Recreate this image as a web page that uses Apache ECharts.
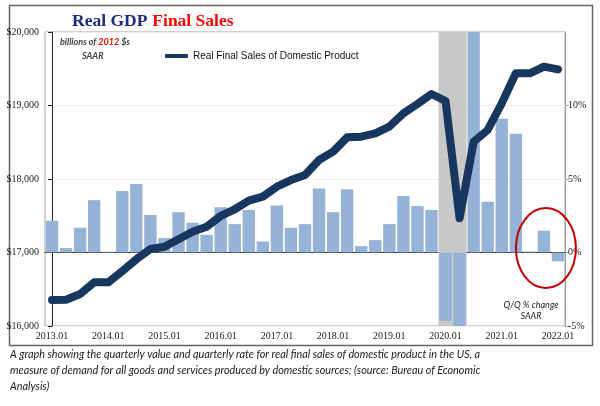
<!DOCTYPE html>
<html>
<head>
    <meta charset="utf-8">
    <title>Real GDP Final Sales</title>
    <script src="https://cdn.jsdelivr.net/npm/echarts@6/dist/echarts.min.js"></script>
    <style>
        html, body { margin: 0; padding: 0; background: #fff; }
        #main { width: 600px; height: 406px; }
    </style>
</head>
<body>
<div id="main"></div>
<script type="text/javascript">
    // quarters 2013.01 .. 2022.01
    var categories = [
        '2013.01','2013.04','2013.07','2013.10',
        '2014.01','2014.04','2014.07','2014.10',
        '2015.01','2015.04','2015.07','2015.10',
        '2016.01','2016.04','2016.07','2016.10',
        '2017.01','2017.04','2017.07','2017.10',
        '2018.01','2018.04','2018.07','2018.10',
        '2019.01','2019.04','2019.07','2019.10',
        '2020.01','2020.04','2020.07','2020.10',
        '2021.01','2021.04','2021.07','2021.10',
        '2022.01'
    ];
    // billions of 2012 $, SAAR (left axis)
    var finalSales = [
        16354, 16358, 16435, 16594,
        16594, 16748, 16907, 17048,
        17079, 17180, 17283, 17351,
        17497, 17588, 17705, 17760,
        17895, 17986, 18054, 18259,
        18372, 18567, 18576, 18621,
        18712, 18893, 19020, 19156,
        19061, 17465, 18507, 18667,
        19030, 19438, 19438, 19528,
        19492
    ];
    // Q/Q % change SAAR (right axis) - 2020.04 / 2020.07 run off the chart
    var qoqChange = [
        2.16, 0.30, 1.68, 3.56,
        0.05, 4.18, 4.66, 2.55,
        0.98, 2.74, 2.02, 1.20,
        3.08, 1.93, 2.90, 0.75,
        3.20, 1.68, 1.93, 4.36,
        2.74, 4.30, 0.43, 0.84,
        1.93, 3.84, 3.16, 2.90,
        -4.65, -30, 36, 3.45,
        9.10, 8.07, 0.07, 1.48,
        -0.60
    ];
    var recessionQuarters = ['2020.01', '2020.04'];
    var leftTicks = [16000, 17000, 18000, 19000, 20000];
    var rightTicks = [-5, 0, 5, 10, 15];

    var captionLines = [
        'A graph showing the quarterly value and quarterly rate for real final sales of domestic product in the US, a',
        'measure of demand for all goods and services produced by domestic sources; (source: Bureau of Economic',
        'Analysis)'
    ];

    // recession band edges, in category index units (half a quarter either side)
    var recStart = categories.indexOf(recessionQuarters[0]) - 0.5;
    var recEnd = categories.indexOf(recessionQuarters[recessionQuarters.length - 1]) + 0.5;

    var serif = 'Liberation Serif';
    var myChart = echarts.init(document.getElementById('main'));

    var graphics = [
        {   // outer frame
            type: 'rect', left: 7, top: 3, silent: true,
            shape: { width: 583, height: 340 },
            style: { fill: 'none', stroke: '#666', lineWidth: 1.5 }
        },
        {
            type: 'text', left: 60, top: 38, silent: true,
            style: {
                text: '{g|billions of }{r|2012}{g| $s}',
                rich: {
                    g: { fontFamily: 'Lato', fontStyle: 'italic', fontWeight: 'bold', fontSize: 9, fill: '#404040' },
                    r: { fontFamily: 'Lato', fontStyle: 'italic', fontWeight: 'bold', fontSize: 9, fill: '#ff0000' }
                }
            }
        },
        {
            type: 'text', left: 82, top: 52, silent: true,
            style: { text: 'SAAR', fontFamily: 'Lato', fontStyle: 'italic', fontWeight: 'bold', fontSize: 9, fill: '#404040' }
        },
        {
            type: 'text', x: 531, y: 301, silent: true,
            style: { text: 'Q/Q % change', align: 'center', fontFamily: 'Lato', fontStyle: 'italic', fontSize: 9, fill: '#222' }
        },
        {
            type: 'text', x: 531, y: 312, silent: true,
            style: { text: 'SAAR', align: 'center', fontFamily: 'Lato', fontStyle: 'italic', fontSize: 9, fill: '#222' }
        }
    ];
    captionLines.forEach(function (line, i) {
        graphics.push({
            type: 'text', left: 10, top: 349 + i * 16, silent: true,
            style: { text: line, fontFamily: 'Lato', fontStyle: 'italic', fontSize: 10.8, fill: '#1a1a1a' }
        });
    });

    myChart.setOption({
        animation: false,
        title: {
            left: 67, top: 7,
            text: '{a|Real GDP} {b|Final Sales}',
            textStyle: {
                rich: {
                    a: { fontFamily: serif, fontWeight: 'bold', fontSize: 17.5, color: '#1c2a80' },
                    b: { fontFamily: serif, fontWeight: 'bold', fontSize: 17.5, color: '#ff0000' }
                }
            }
        },
        legend: {
            data: ['Real Final Sales of Domestic Product'],
            left: 160, top: 46,
            icon: 'roundRect',
            itemWidth: 23, itemHeight: 4,
            textStyle: { fontFamily: 'Liberation Sans', fontSize: 10, color: '#111' }
        },
        grid: {
            left: 45, right: 35, top: 32, bottom: 80,
            show: true, borderColor: '#a0a0a0', borderWidth: 1
        },
        xAxis: [{
            type: 'category',
            data: categories,
            boundaryGap: true,
            axisLine: { lineStyle: { color: '#222' } },
            axisTick: { inside: true, length: 4, interval: 0, lineStyle: { color: '#222' } },
            axisLabel: { interval: 3, fontFamily: serif, fontSize: 10, color: '#222', margin: 5 }
        }, {
            // hidden index axis lined up with the category bands
            type: 'value',
            min: -0.5, max: categories.length - 0.5,
            show: false
        }],
        yAxis: [{
            type: 'value',
            min: leftTicks[0], max: leftTicks[leftTicks.length - 1], interval: 1000,
            position: 'left',
            axisLine: { show: true, lineStyle: { color: '#222' } },
            axisTick: { show: true, length: 4, lineStyle: { color: '#222' } },
            axisLabel: {
                fontFamily: serif, fontSize: 10, color: '#222', margin: 6,
                formatter: function (v) { return '$' + v.toLocaleString('en-US'); }
            },
            splitLine: { lineStyle: { color: '#eeeeee' } }
        }, {
            type: 'value',
            min: rightTicks[0], max: rightTicks[rightTicks.length - 1], interval: 5,
            position: 'right',
            axisLine: { show: true, lineStyle: { color: '#a0a0a0' } },
            axisTick: { show: true, length: 4, lineStyle: { color: '#a0a0a0' } },
            axisLabel: {
                fontFamily: serif, fontSize: 10, color: '#222', margin: 3, showMaxLabel: false,
                formatter: function (v) { return v + '%'; }
            },
            splitLine: { show: false }
        }, {
            type: 'value', min: 0, max: 1, show: false
        }],
        graphic: graphics,
        series: [{
            // recession shading
            name: 'recession',
            type: 'line',
            xAxisIndex: 1,
            yAxisIndex: 2,
            data: [[recStart, 0.5], [recEnd, 0.5]],
            showSymbol: false,
            symbol: 'none',
            silent: true,
            z: 1,
            lineStyle: { opacity: 0 },
            markArea: {
                silent: true,
                itemStyle: { color: '#c8c8c8' },
                data: [[{ xAxis: recStart }, { xAxis: recEnd }]]
            }
        }, {
            name: 'Q/Q % change',
            type: 'bar',
            xAxisIndex: 0,
            yAxisIndex: 1,
            data: qoqChange,
            barCategoryGap: '12%',
            z: 2,
            itemStyle: { color: '#95b3d7' }
        }, {
            name: 'Real Final Sales of Domestic Product',
            type: 'line',
            xAxisIndex: 0,
            yAxisIndex: 0,
            data: finalSales,
            showSymbol: false,
            symbol: 'none',
            z: 3,
            lineStyle: { color: '#17375e', width: 8, cap: 'round', join: 'round' },
            itemStyle: { color: '#17375e' }
        }]
    });

    // red ring round the latest quarters, placed off the axes
    var c = myChart.convertToPixel({ xAxisIndex: 0, yAxisIndex: 1 }, ['2021.10', 0.3]);
    myChart.setOption({
        graphic: graphics.concat([{
            type: 'ellipse', silent: true, z: 10,
            shape: { cx: c[0] + 2, cy: c[1], rx: 30, ry: 40 },
            style: { fill: 'none', stroke: '#c00000', lineWidth: 2 }
        }])
    });
</script>
</body>
</html>
